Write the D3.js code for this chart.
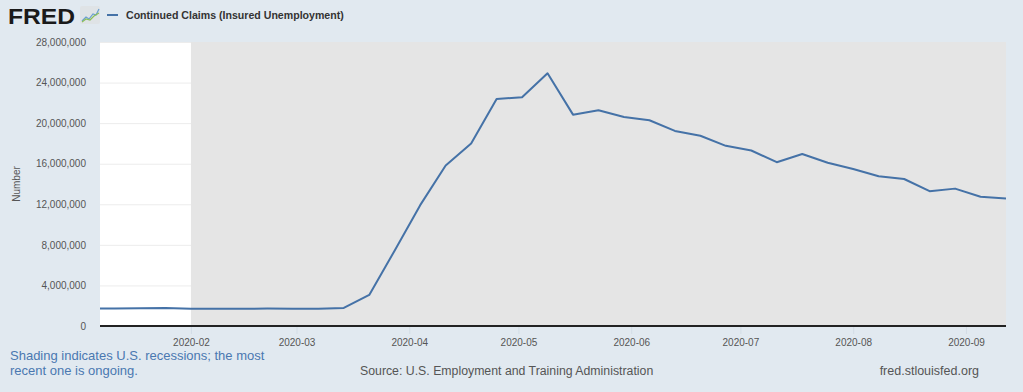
<!DOCTYPE html>
<html>
<head>
<meta charset="utf-8">
<script src="https://cdn.jsdelivr.net/npm/d3@7"></script>
<style>
  body { margin: 0; background: #e1e9f0; font-family: "Liberation Sans", Arial, sans-serif; }
</style>
</head>
<body>
<div id="chart"></div>
<script>
// weekly continued claims, week ending Saturday
const weekDates = ["2020-01-04","2020-01-11","2020-01-18","2020-01-25","2020-02-01","2020-02-08",
  "2020-02-15","2020-02-22","2020-02-29","2020-03-07","2020-03-14","2020-03-21","2020-03-28",
  "2020-04-04","2020-04-11","2020-04-18","2020-04-25","2020-05-02","2020-05-09","2020-05-16",
  "2020-05-23","2020-05-30","2020-06-06","2020-06-13","2020-06-20","2020-06-27","2020-07-04",
  "2020-07-11","2020-07-18","2020-07-25","2020-08-01","2020-08-08","2020-08-15","2020-08-22",
  "2020-08-29","2020-09-05","2020-09-12"];
const claims = [1730000,1735000,1740000,1780000,1700000,1710000,
  1700000,1720000,1710000,1710000,1784000,3059000,7446000,
  11914000,15819000,17992000,22377000,22548000,24912000,20838000,
  21268000,20606000,20289000,19231000,18760000,17764000,17304000,
  16151000,16951000,16090000,15480000,14759000,14492000,13292000,
  13544000,12747000,12580000];
const yTicks = [0,4000000,8000000,12000000,16000000,20000000,24000000,28000000];
const xTicks = ["2020-02-01","2020-03-01","2020-04-01","2020-05-01","2020-06-01","2020-07-01","2020-08-01","2020-09-01"];
const xDomain = ["2020-01-07","2020-09-12"];
const recessionStart = "2020-02-01";

const width = 1023, height = 392;
const margin = {top: 42, right: 17, bottom: 66, left: 100};
const plotWidth = width - margin.left - margin.right,
      plotHeight = height - margin.top - margin.bottom;

const parse = d3.timeParse("%Y-%m-%d");
const data = weekDates.map((d, i) => ({date: parse(d), value: claims[i]}));

const svg = d3.select("#chart").append("svg")
    .attr("width", width)
    .attr("height", height);

const x = d3.scaleTime().domain(xDomain.map(parse)).range([0, plotWidth]);
const y = d3.scaleLinear().domain([0, 28000000]).range([plotHeight, 0]);

const g = svg.append("g")
    .attr("transform", "translate(" + margin.left + "," + margin.top + ")");

g.append("defs").append("clipPath").attr("id", "clip")
    .append("rect").attr("width", plotWidth).attr("height", plotHeight + 1);

// plot background
g.append("rect")
    .attr("width", plotWidth)
    .attr("height", plotHeight)
    .attr("fill", "#ffffff");

// grid lines
g.append("g")
    .call(d3.axisLeft(y).tickValues(yTicks).tickSize(-plotWidth).tickFormat(""))
    .call(s => s.select(".domain").remove())
    .call(s => s.selectAll("line").attr("stroke", "#ececec"));

// recession shading
g.append("rect")
    .attr("x", x(parse(recessionStart)))
    .attr("width", plotWidth - x(parse(recessionStart)))
    .attr("height", plotHeight)
    .attr("fill", "#e5e5e5");

// y axis labels
g.append("g")
    .call(d3.axisLeft(y).tickValues(yTicks).tickSize(0).tickPadding(14).tickFormat(d3.format(",")))
    .call(s => s.select(".domain").remove())
    .call(s => s.selectAll("text")
        .attr("fill", "#555")
        .style("font-size", "10px")
        .style("font-family", "'Liberation Sans', Arial, sans-serif"));

// x axis
g.append("g")
    .attr("transform", "translate(0," + plotHeight + ")")
    .call(d3.axisBottom(x).tickValues(xTicks.map(parse)).tickSize(8).tickPadding(5)
        .tickFormat(d3.timeFormat("%Y-%m")))
    .call(s => s.select(".domain").remove())
    .call(s => s.selectAll("line").attr("stroke", "#d3dde6"))
    .call(s => s.selectAll("text")
        .attr("fill", "#555")
        .style("font-size", "10px")
        .style("font-family", "'Liberation Sans', Arial, sans-serif"));

// zero line
g.append("line")
    .attr("x1", 0)
    .attr("x2", plotWidth)
    .attr("y1", y(0))
    .attr("y2", y(0))
    .attr("stroke", "#222")
    .attr("stroke-width", 2);

// series line
g.append("path")
    .datum(data)
    .attr("clip-path", "url(#clip)")
    .attr("fill", "none")
    .attr("stroke", "#4572a7")
    .attr("stroke-width", 2)
    .attr("stroke-linejoin", "round")
    .attr("d", d3.line()
        .x(d => x(d.date))
        .y(d => y(d.value)));

// y axis title
svg.append("text")
    .attr("transform", "translate(20," + (margin.top + plotHeight / 2) + ") rotate(-90)")
    .attr("text-anchor", "middle")
    .attr("fill", "#555")
    .style("font-size", "10px")
    .text("Number");

// FRED logo
svg.append("text")
    .attr("x", 8)
    .attr("y", 24)
    .attr("fill", "#1a1a1a")
    .attr("textLength", 67)
    .attr("lengthAdjust", "spacingAndGlyphs")
    .style("font-size", "22px")
    .style("font-weight", "900")
    .style("font-family", "'Liberation Sans', Arial, sans-serif")
    .text("FRED");

const icon = svg.append("g").attr("transform", "translate(80,6)");
icon.append("rect")
    .attr("width", 20).attr("height", 18).attr("rx", 2)
    .attr("fill", "#dfe3e6");
icon.append("path")
    .attr("d", "M2,15 L6,11 L9,13 L13,8 L16,9 L19,3")
    .attr("fill", "none").attr("stroke", "#6a9fd0").attr("stroke-width", 1.2);
icon.append("path")
    .attr("d", "M2,16 L6,13 L10,14 L14,10 L19,7")
    .attr("fill", "none").attr("stroke", "#8bbf5a").attr("stroke-width", 1.2);

// legend
svg.append("line")
    .attr("x1", 107).attr("x2", 118)
    .attr("y1", 15).attr("y2", 15)
    .attr("stroke", "#4572a7")
    .attr("stroke-width", 2);
svg.append("text")
    .attr("x", 126)
    .attr("y", 19)
    .attr("fill", "#333")
    .style("font-size", "10.6px")
    .style("font-weight", "bold")
    .text("Continued Claims (Insured Unemployment)");

// footer
const note = svg.append("text")
    .attr("fill", "#4a78b0")
    .style("font-size", "13px");
note.append("tspan").attr("x", 10).attr("y", 360).text("Shading indicates U.S. recessions; the most");
note.append("tspan").attr("x", 10).attr("y", 375).text("recent one is ongoing.");

svg.append("text")
    .attr("x", 360)
    .attr("y", 375)
    .attr("fill", "#555")
    .style("font-size", "12.3px")
    .text("Source: U.S. Employment and Training Administration");

svg.append("text")
    .attr("x", 979)
    .attr("y", 375)
    .attr("text-anchor", "end")
    .attr("fill", "#555")
    .style("font-size", "12.5px")
    .text("fred.stlouisfed.org");
</script>
</body>
</html>
